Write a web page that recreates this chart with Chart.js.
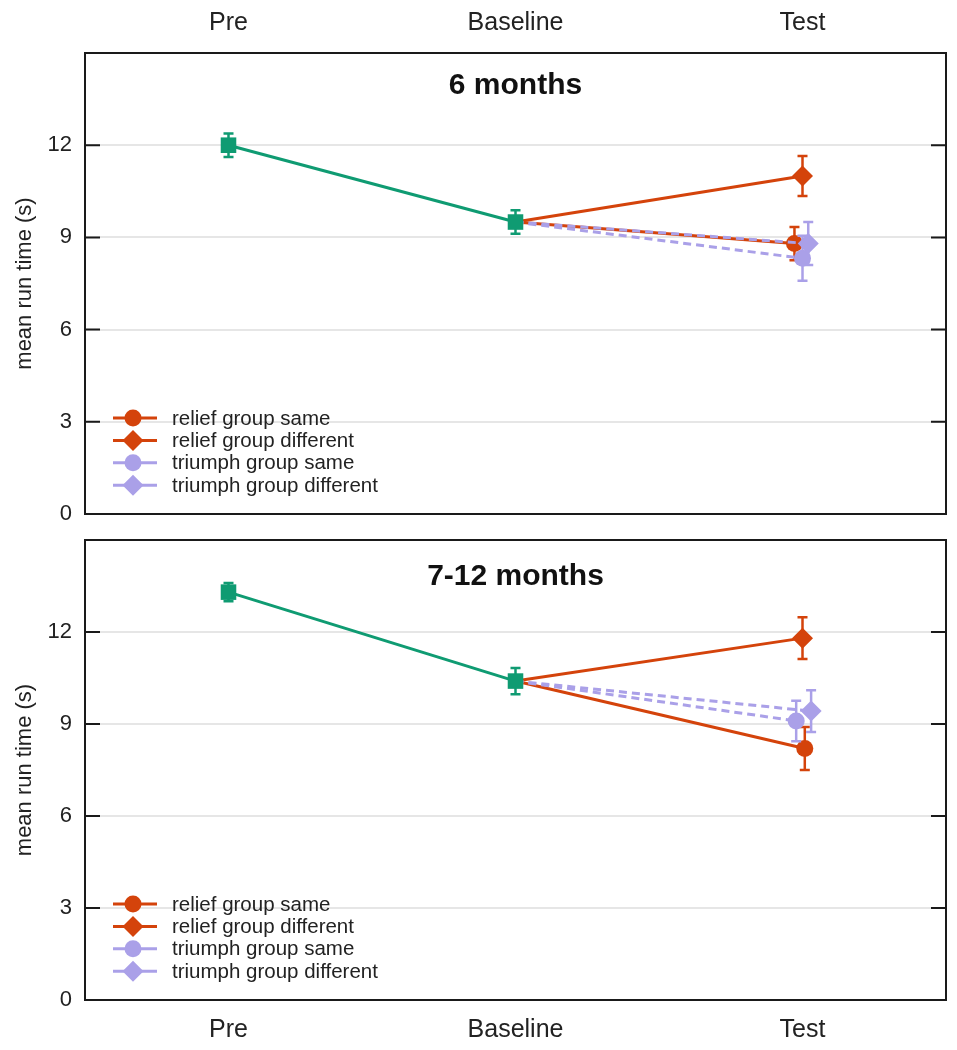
<!DOCTYPE html>
<html>
<head>
<meta charset="utf-8">
<title>mean run time</title>
<script src="https://cdn.jsdelivr.net/npm/chart.js"></script>
<style>
  html, body { margin: 0; padding: 0; background: #fff; }
  #wrap { position: relative; width: 957px; height: 1050px; }
  #top { position: absolute; left: 0; top: 0; }
  #bottom { position: absolute; left: 0; top: 527px; }
</style>
</head>
<body>
<div id="wrap">
  <canvas id="top" width="957" height="527"></canvas>
  <canvas id="bottom" width="957" height="523"></canvas>
</div>
<script>
// categories on the x axis and y tick values
const categories = ["Pre", "Baseline", "Test"];
const yTicks = [0, 3, 6, 9, 12];
const seriesNames = ["relief group same", "relief group different", "triumph group same", "triumph group different"];

// 6 months panel: green series at Pre and Baseline, then the four groups at Test
const prePoints6 = [12.0, 9.5];
const preErr6 = [0.38, 0.38];
const test6 = [8.8, 11.0, 8.32, 8.8];
const testErr6 = [0.54, 0.65, 0.73, 0.70];
const dodge6 = [-0.028, 0, 0, 0.02];

// 7-12 months panel
const prePoints12 = [13.3, 10.4];
const preErr12 = [0.3, 0.43];
const test12 = [8.2, 11.8, 9.1, 9.42];
const testErr12 = [0.7, 0.68, 0.66, 0.68];
const dodge12 = [0.008, 0, -0.022, 0.03];

// colours and styles
const GREEN = "#0f9b72";
const RED = "#d4430b";
const PURPLE = "#aaa0e8";
const seriesColors = [RED, RED, PURPLE, PURPLE];
const seriesStyles = ["circle", "rectRot", "circle", "rectRot"];
const seriesDash = [[], [], [8, 5], [8, 5]];
const FONT = "'Liberation Sans', Arial, sans-serif";

// draw a circle or a diamond marker (used by the legend)
function drawMarker(ctx, style, x, y, color) {
  ctx.fillStyle = color;
  ctx.beginPath();
  if (style === "circle") {
    ctx.arc(x, y, 8.5, 0, Math.PI * 2);
  } else {
    ctx.moveTo(x, y - 10.5);
    ctx.lineTo(x + 10.5, y);
    ctx.lineTo(x, y + 10.5);
    ctx.lineTo(x - 10.5, y);
    ctx.closePath();
  }
  ctx.fill();
}

// error bars, drawn just before each dataset so the marker sits on top
const errorBars = {
  id: "errorBars",
  beforeDatasetDraw(chart, args) {
    const ds = chart.data.datasets[args.index];
    if (!ds.err) return;
    const ctx = chart.ctx;
    const yScale = chart.scales.y;
    ctx.save();
    ctx.strokeStyle = ds.borderColor;
    ctx.lineWidth = 2.5;
    ctx.setLineDash([]);
    args.meta.data.forEach((pt, i) => {
      const e = ds.err[i];
      if (!e) return;
      const v = ds.data[i].y;
      const y1 = yScale.getPixelForValue(v + e);
      const y2 = yScale.getPixelForValue(v - e);
      ctx.beginPath();
      ctx.moveTo(pt.x, y1); ctx.lineTo(pt.x, y2);
      ctx.moveTo(pt.x - 5, y1); ctx.lineTo(pt.x + 5, y1);
      ctx.moveTo(pt.x - 5, y2); ctx.lineTo(pt.x + 5, y2);
      ctx.stroke();
    });
    ctx.restore();
  }
};

// frame, inner tick marks, panel title and legend
const panelDecor = {
  id: "panelDecor",
  afterDraw(chart, args, opts) {
    const ctx = chart.ctx;
    const a = chart.chartArea;
    const yScale = chart.scales.y;
    ctx.save();
    ctx.strokeStyle = "#1a1a1a";
    ctx.lineWidth = 2;
    ctx.setLineDash([]);
    ctx.strokeRect(a.left, a.top, a.right - a.left, a.bottom - a.top);
    yTicks.forEach(v => {
      const y = yScale.getPixelForValue(v);
      ctx.beginPath();
      ctx.moveTo(a.left, y); ctx.lineTo(a.left + 15, y);
      ctx.moveTo(a.right - 15, y); ctx.lineTo(a.right, y);
      ctx.stroke();
    });

    // title
    ctx.fillStyle = "#111";
    ctx.font = "bold 30px " + FONT;
    ctx.textAlign = "center";
    ctx.textBaseline = "middle";
    ctx.fillText(opts.title, (a.left + a.right) / 2, a.top + opts.titleOffset);

    // legend
    ctx.font = "20.5px " + FONT;
    ctx.textAlign = "left";
    seriesNames.forEach((name, i) => {
      const y = a.bottom - 96 + i * 22.4;
      ctx.strokeStyle = seriesColors[i];
      ctx.lineWidth = 3;
      ctx.beginPath();
      ctx.moveTo(a.left + 28, y); ctx.lineTo(a.left + 72, y);
      ctx.stroke();
      drawMarker(ctx, seriesStyles[i], a.left + 48, y, seriesColors[i]);
      ctx.fillStyle = "#222";
      ctx.fillText(name, a.left + 87, y + 1);
    });
    ctx.restore();
  }
};

function buildDatasets(prePoints, preErr, test, testErr, dodge) {
  const sets = [];
  sets.push({
    label: "pre-baseline",
    data: prePoints.map((v, i) => ({ x: i, y: v })),
    err: preErr,
    borderColor: GREEN,
    backgroundColor: GREEN,
    borderWidth: 3,
    pointStyle: "rect",
    pointRadius: 11,
    pointBorderWidth: 0
  });
  // drawn last-to-first, so purple ends up above red
  [3, 2, 1, 0].forEach(s => {
    sets.push({
      label: seriesNames[s],
      data: [{ x: 1, y: prePoints[1] }, { x: 2 + dodge[s], y: test[s] }],
      err: [0, testErr[s]],
      borderColor: seriesColors[s],
      backgroundColor: seriesColors[s],
      borderWidth: 3,
      borderDash: seriesDash[s],
      pointStyle: seriesStyles[s],
      pointRadius: [0, seriesStyles[s] === "circle" ? 8.5 : 10.5],
      pointBorderWidth: 0
    });
  });
  return sets;
}

function buildChart(canvas, datasets, title, titleOffset, xPos, xHeight, xPad, padding) {
  return new Chart(canvas.getContext("2d"), {
    type: "line",
    data: { datasets: datasets },
    plugins: [errorBars, panelDecor],
    options: {
      responsive: false,
      devicePixelRatio: 1,
      animation: false,
      events: [],
      layout: { padding: padding },
      plugins: {
        legend: { display: false },
        tooltip: { enabled: false },
        panelDecor: { title: title, titleOffset: titleOffset }
      },
      elements: { line: { tension: 0 } },
      scales: {
        x: {
          type: "linear",
          position: xPos,
          min: -0.5,
          max: 2.5,
          afterBuildTicks: axis => { axis.ticks = categories.map((c, i) => ({ value: i })); },
          afterFit: axis => {
            axis.height = xHeight;
            axis.paddingLeft = 0;
            axis.paddingRight = 0;
          },
          ticks: {
            callback: v => categories[v],
            color: "#222",
            padding: xPad,
            maxRotation: 0,
            font: { family: FONT, size: 25 }
          },
          grid: { display: false },
          border: { display: false }
        },
        y: {
          min: 0,
          max: 15,
          afterBuildTicks: axis => { axis.ticks = yTicks.map(v => ({ value: v })); },
          afterFit: axis => {
            axis.width = 85;
            axis.paddingTop = 0;
            axis.paddingBottom = 0;
          },
          ticks: {
            color: "#222",
            padding: 13,
            font: { family: FONT, size: 22 }
          },
          grid: {
            drawTicks: false,
            lineWidth: 2,
            color: c => (c.tick && c.tick.value === 0 ? "rgba(0,0,0,0)" : "#e6e6e6")
          },
          border: { display: false },
          title: {
            display: true,
            text: "mean run time (s)",
            color: "#222",
            padding: { top: 12, bottom: 0 },
            font: { family: FONT, size: 22 }
          }
        }
      }
    }
  });
}

buildChart(document.getElementById("top"),
  buildDatasets(prePoints6, preErr6, test6, testErr6, dodge6),
  "6 months", 33, "top", 53, 7, { left: 0, right: 8, top: 0, bottom: 13 });

buildChart(document.getElementById("bottom"),
  buildDatasets(prePoints12, preErr12, test12, testErr12, dodge12),
  "7-12 months", 37, "bottom", 50, 7, { left: 0, right: 8, top: 13, bottom: 0 });
</script>
</body>
</html>
